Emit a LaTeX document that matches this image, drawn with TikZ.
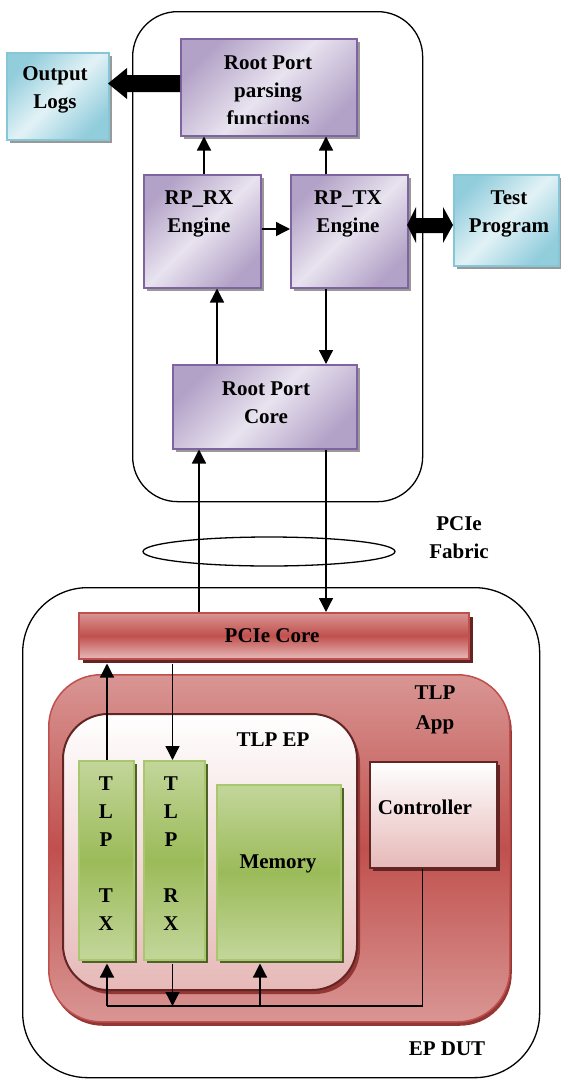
\documentclass[tikz,border=0pt]{standalone}
\usepackage{fontspec}
\setmainfont{Liberation Serif}
\usetikzlibrary{arrows.meta,shadows,shapes.geometric,calc}
\definecolor{pdark}{HTML}{B3A2C7}
\definecolor{plight}{HTML}{E8E3EF}
\definecolor{pborder}{HTML}{8064A2}
\definecolor{cdark}{HTML}{92CDDC}
\definecolor{clight}{HTML}{E2F2F6}
\definecolor{cborder}{HTML}{86C6D6}
\definecolor{rlight}{HTML}{D99694}
\definecolor{rmid}{HTML}{C0504D}
\definecolor{rpale}{HTML}{E6B9B8}
\definecolor{rdark}{HTML}{632523}
\definecolor{rshadow}{HTML}{943634}
\definecolor{gmid}{HTML}{9BBB59}
\definecolor{glight}{HTML}{C3D69B}
\definecolor{gborder}{HTML}{A9C86E}
\definecolor{gshadow}{HTML}{4F6228}
\begin{document}
\begin{tikzpicture}[x=1pt,y=-1pt,
  every node/.style={font=\fontsize{21}{28}\selectfont\bfseries, inner sep=0pt},
  box/.style={anchor=north west, inner sep=0pt},
  container/.style={box, draw=black, line width=1.3pt},
  pbox/.style={box, draw=pborder, line width=1.5pt, top color=pdark, bottom color=pdark, middle color=plight, shading angle=45,
     drop shadow={shadow xshift=3pt, shadow yshift=-3pt, fill=black!40, opacity=1}},
  cbox/.style={box, draw=cborder, line width=1.5pt, top color=cdark, bottom color=cdark, middle color=clight, shading angle=45,
     drop shadow={shadow xshift=3pt, shadow yshift=-3pt, fill=black!40, opacity=1}},
  gbox/.style={box, draw=gborder, line width=1.5pt, top color=glight, bottom color=glight, middle color=gmid,
     drop shadow={shadow xshift=3pt, shadow yshift=-3pt, fill=gshadow, opacity=1}},
  wbox/.style={box, draw=rdark, line width=1.5pt, top color=white, bottom color=rpale,
     drop shadow={shadow xshift=3pt, shadow yshift=-3pt, fill=rdark, opacity=1}},
  txt/.style={align=center},
  arr/.style={line width=1.3pt, -{Triangle[width=14pt,length=14pt]}},
  bus/.style={line width=1.3pt}
]
\useasboundingbox (0,0) rectangle (560,1079);

% lanes
\coordinate (l1) at (204,0);
\coordinate (l2) at (326,0);
\coordinate (l3) at (217,0);
\coordinate (l4) at (199,0);
\coordinate (l5) at (107,0);
\coordinate (l6) at (172.5,0);
\coordinate (l7) at (260,0);
\coordinate (l8) at (422.5,0);
\coordinate (yrx) at (0,229);
\coordinate (bus) at (0,1006);

% containers
\node[container, rounded corners=45pt, minimum width=290pt, minimum height=490pt] (topc) at (132,11) {};
\node[container, rounded corners=65pt, minimum width=517pt, minimum height=490pt] (botc) at (22,587) {};

% Root port side
\node[pbox, minimum width=176pt, minimum height=97pt] (rpp) at (180,38) {};
\node[cbox, minimum width=102pt, minimum height=87pt] (logs) at (6,52) {};
\node[pbox, minimum width=117pt, minimum height=113pt] (rprx) at (143,174) {};
\node[pbox, minimum width=117pt, minimum height=113pt] (rptx) at (290,174) {};
\node[cbox, minimum width=105pt, minimum height=91pt] (test) at (453,174) {};
\node[pbox, minimum width=184pt, minimum height=84pt] (rpcore) at (172,364) {};

% fabric
\node[draw, ellipse, line width=1.3pt, minimum width=252pt, minimum height=29pt] (fabric) at (269,551.5) {};

% EP side
\node[box, draw=rmid, line width=1.5pt, top color=rlight, bottom color=rpale, middle color=rmid,
   drop shadow={shadow xshift=4pt, shadow yshift=-4pt, fill=rdark, opacity=1},
   minimum width=390pt, minimum height=46pt] (pcie) at (78,612) {};
\node[box, draw=rmid, line width=1.5pt, rounded corners=52pt, top color=rlight, bottom color=rlight, middle color=rmid,
   drop shadow={shadow xshift=2pt, shadow yshift=-4pt, fill=rshadow, opacity=1},
   minimum width=461pt, minimum height=347pt] (app) at (48,674) {};
\node[box, draw=rdark, line width=2pt, rounded corners=45pt, top color=white, bottom color=rpale,
   drop shadow={shadow xshift=3pt, shadow yshift=-4pt, fill=rshadow, opacity=1},
   minimum width=294pt, minimum height=276pt] (ep) at (62,713) {};
\node[gbox, minimum width=55pt, minimum height=199pt] (tx) at (78,760) {};
\node[gbox, minimum width=61pt, minimum height=199pt] (rx) at (143,760) {};
\node[gbox, minimum width=124pt, minimum height=175pt] (mem) at (216,784) {};
\node[wbox, minimum width=127pt, minimum height=106pt] (ctrl) at (369,761) {};

% thick arrows
\fill (180,75) -- (127,75) -- (127,68) -- (108,83.5) -- (127,99) -- (127,92) -- (180,92) -- cycle;
\fill (407,225) -- (416,207) -- (416,218) -- (443,218) -- (443,207) -- (453,225) -- (443,243) -- (443,233) -- (416,233) -- (416,243) -- cycle;

% connectors
\draw[arr] (rprx.north -| l1) -- (rpp.south -| l1);
\draw[arr] (rptx.north -| l2) -- (rpp.south -| l2);
\draw[arr] (rprx.east |- yrx) -- (rptx.west |- yrx);
\draw[arr] (rpcore.north -| l3) -- (rprx.south -| l3);
\draw[arr] (rptx.south -| l2) -- (rpcore.north -| l2);
\draw[arr] (pcie.north -| l4) -- (rpcore.south -| l4);
\draw[arr] (rpcore.south -| l2) -- (pcie.north -| l2);
\draw[arr] (tx.north -| l5) -- ($(pcie.south -| l5)+(0,4)$);
\draw[arr] ($(pcie.south -| l6)+(0,4)$) -- (rx.north -| l6);
\draw[bus] (ctrl.south -| l8) -- (bus -| l8) -- (bus -| l5);
\draw[arr] (bus -| l5) -- ($(tx.south -| l5)+(0,3)$);
\draw[arr] ($(rx.south -| l6)+(0,3)$) -- (bus -| l6);
\draw[arr] (bus -| l7) -- ($(mem.south -| l7)+(0,3)$);

% texts
\begin{scope}
\clip (180,38) rectangle (356,123);
\node[txt] (rppt) at (268,91) {Root Port\\parsing\\functions};
\end{scope}
\node[txt] (logst) at (55,90) {Output\\Logs};
\node[txt] (rprxt) at (199,213.5) {RP\_RX\\Engine};
\node[txt] (rptxt) at (348,213.5) {RP\_TX\\Engine};
\node[txt] (testt) at (509,213.5) {Test\\Program};
\node[txt] (rpcoret) at (266,403) {Root Port\\Core};
\node[txt] (fabrict) at (459,538) {PCIe\\Fabric};
\node[txt] (pciet) at (272,636) {PCIe Core};
\node[txt, font=\fontsize{21}{30}\selectfont\bfseries] (appt) at (435,710) {TLP\\App};
\node[txt] (ept) at (273,740) {TLP EP};
\node[txt] (txt) at (106,853.5) {T\\L\\P\\\mbox{}\\T\\X};
\node[txt] (rxt) at (171,853.5) {T\\L\\P\\\mbox{}\\R\\X};
\node[txt] (memt) at (278,864) {Memory};
\node[txt] (ctrlt) at (425,807) {Controller};
\node[txt] (dutt) at (447,1049) {EP DUT};
\end{tikzpicture}
\end{document}
